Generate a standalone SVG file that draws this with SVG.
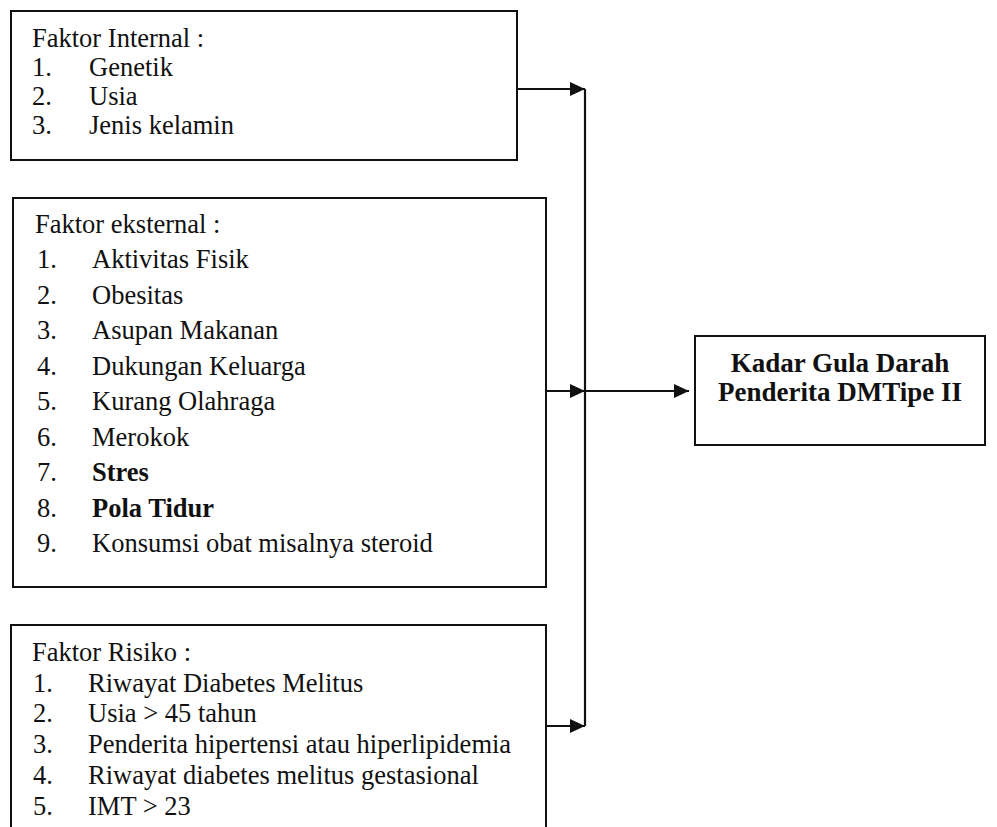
<svg xmlns="http://www.w3.org/2000/svg" width="997" height="827" viewBox="0 0 997 827">
<style>
.box{fill:#fff;stroke:#111;stroke-width:2}
.t{font-family:"Liberation Serif","Times New Roman",serif;font-size:26.5px;fill:#111}
.b{font-weight:bold}
.c{text-anchor:middle;font-size:27px}
.ln{fill:none;stroke:#111;stroke-width:2.2}
</style>
<defs>
<marker id="ah" viewBox="0 0 15 14" refX="15" refY="7" markerWidth="15" markerHeight="14" markerUnits="userSpaceOnUse" orient="auto">
<path d="M0,0 L15,7 L0,14 Z" fill="#111"/>
</marker>
</defs>
<rect width="997" height="827" fill="#fff"/>
<g id="internal">
<rect class="box" x="11" y="11" width="506" height="149"/>
<text class="t" x="32" y="47">Faktor Internal :</text>
<text class="t" x="32" y="76">1.</text><text class="t" x="89" y="76">Genetik</text>
<text class="t" x="32" y="105">2.</text><text class="t" x="89" y="105">Usia</text>
<text class="t" x="32" y="134">3.</text><text class="t" x="89" y="134">Jenis kelamin</text>
</g>
<g id="eksternal">
<rect class="box" x="13" y="198" width="533" height="389"/>
<text class="t" x="35" y="233">Faktor eksternal :</text>
<text class="t" x="37" y="268">1.</text><text class="t" x="92" y="268">Aktivitas Fisik</text>
<text class="t" x="37" y="304">2.</text><text class="t" x="92" y="304">Obesitas</text>
<text class="t" x="37" y="339">3.</text><text class="t" x="92" y="339">Asupan Makanan</text>
<text class="t" x="37" y="375">4.</text><text class="t" x="92" y="375">Dukungan Keluarga</text>
<text class="t" x="37" y="410">5.</text><text class="t" x="92" y="410">Kurang Olahraga</text>
<text class="t" x="37" y="446">6.</text><text class="t" x="92" y="446">Merokok</text>
<text class="t" x="37" y="481">7.</text><text class="t b" x="92" y="481">Stres</text>
<text class="t" x="37" y="517">8.</text><text class="t b" x="92" y="517">Pola Tidur</text>
<text class="t" x="37" y="552">9.</text><text class="t" x="92" y="552">Konsumsi obat misalnya steroid</text>
</g>
<g id="risiko">
<path class="box" d="M11,827 V625 H546 V827"/>
<text class="t" x="32" y="661">Faktor Risiko :</text>
<text class="t" x="33" y="692">1.</text><text class="t" x="88" y="692">Riwayat Diabetes Melitus</text>
<text class="t" x="33" y="722">2.</text><text class="t" x="88" y="722">Usia &gt; 45 tahun</text>
<text class="t" x="33" y="753">3.</text><text class="t" x="88" y="753">Penderita hipertensi atau hiperlipidemia</text>
<text class="t" x="33" y="784">4.</text><text class="t" x="88" y="784">Riwayat diabetes melitus gestasional</text>
<text class="t" x="33" y="815">5.</text><text class="t" x="88" y="815">IMT &gt; 23</text>
</g>
<g id="kadar">
<rect class="box" x="695" y="336" width="290" height="109"/>
<text class="t b c" x="840" y="372">Kadar Gula Darah</text>
<text class="t b c" x="840" y="401">Penderita DMTipe II</text>
</g>
<g id="connectors">
<path class="ln" d="M517,89 H585" marker-end="url(#ah)"/>
<path class="ln" d="M546,391 H585" marker-end="url(#ah)"/>
<path class="ln" d="M546,726 H585" marker-end="url(#ah)"/>
<path class="ln" d="M585,89 V726"/>
<path class="ln" d="M585,391 H689" marker-end="url(#ah)"/>
</g>
</svg>
